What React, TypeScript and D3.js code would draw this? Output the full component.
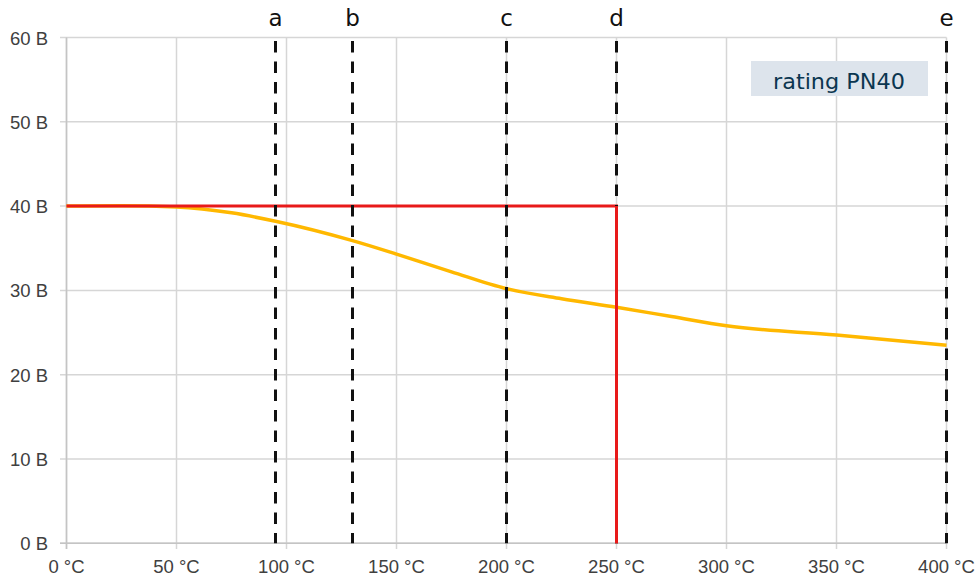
import React from "react";
import * as d3 from "d3";

const xTicks = [0, 50, 100, 150, 200, 250, 300, 350, 400];
const yTicks = [0, 10, 20, 30, 40, 50, 60];
const markerLabels = ["a", "b", "c", "d", "e"];
const markerTemps = [95, 130, 200, 250, 400];
const ratingTemps = [0, 250, 250];
const ratingPressures = [40, 40, 0];
const curveTemps = [0, 25, 50, 75, 95, 130, 150, 175, 200, 225, 250, 275, 300, 350, 400];
const curvePressures = [40, 40.05, 39.9, 39.2, 38.2, 35.9, 34.3, 32.2, 30.2, 29.0, 28.0, 26.9, 25.8, 24.7, 23.5];

export default function App() {
  const W = 976, H = 581;
  const x = d3.scaleLinear().domain([0, 400]).range([66.5, 946.5]);
  const y = d3.scaleLinear().domain([0, 60]).range([543.3, 37.5]);
  const curveLine = d3.line<number>()
    .x((_, i) => x(curveTemps[i]))
    .y((d) => y(d))
    .curve(d3.curveMonotoneX)(curvePressures);
  const ratingGen = d3.line<number>()
    .x((_, i) => x(ratingTemps[i]))
    .y((d) => y(d));
  const ratingLine = ratingGen(ratingPressures);
  const ratingDrop = d3.line<[number, number]>()
    .x((d) => x(d[0]))
    .y((d) => y(d[1]))([
      [ratingTemps[1], ratingPressures[1]],
      [ratingTemps[2], ratingPressures[2]],
    ]);
  const axisFont = "Liberation Sans, Arial, sans-serif";
  return (
    <svg width={W} height={H} style={{ position: "absolute", left: 0, top: 0, background: "#fff" }}>
      {yTicks.map((t) => (
        <g key={"y" + t}>
          <line x1={60} x2={946.5} y1={y(t)} y2={y(t)} stroke="#d6d6d6" strokeWidth={1.5} />
          <text x={48} y={y(t) + 7} textAnchor="end" fontFamily={axisFont} fontSize={18.5} fill="#404040">{t} B</text>
        </g>
      ))}
      {xTicks.map((t) => (
        <g key={"x" + t}>
          <line x1={x(t)} x2={x(t)} y1={37.5} y2={549} stroke="#d6d6d6" strokeWidth={1.5} />
          <text x={x(t)} y={573} textAnchor="middle" fontFamily={axisFont} fontSize={18.5} fill="#404040">{t} °C</text>
        </g>
      ))}
      <line x1={66.5} x2={66.5} y1={37.5} y2={549} stroke="#c4c4c4" strokeWidth={1.5} />
      <line x1={60} x2={946.5} y1={543.3} y2={543.3} stroke="#c4c4c4" strokeWidth={1.5} />
      <path d={curveLine || ""} fill="none" stroke="#ffb800" strokeWidth={3.5} />
      <path d={ratingLine || ""} fill="none" stroke="#e81a1a" strokeWidth={3} />
      {markerTemps.map((t, i) => (
        <g key={"m" + i}>
          <line x1={x(t)} x2={x(t)} y1={41} y2={543.3} stroke="#111" strokeWidth={3} strokeDasharray="11.5 9" />
          <text x={x(t)} y={26} textAnchor="middle" fontFamily="DejaVu Sans, Verdana, sans-serif" fontSize={23} fill="#111">{markerLabels[i]}</text>
        </g>
      ))}
      <path d={ratingDrop || ""} fill="none" stroke="#e81a1a" strokeWidth={3} />
      <rect x={751} y={61} width={177} height={35} fill="#dde4ec" />
      <text x={773} y={88.5} textLength={132} lengthAdjust="spacingAndGlyphs" fontFamily="DejaVu Sans, Verdana, sans-serif" fontSize={21} fill="#0b3650">rating PN40</text>
    </svg>
  );
}
